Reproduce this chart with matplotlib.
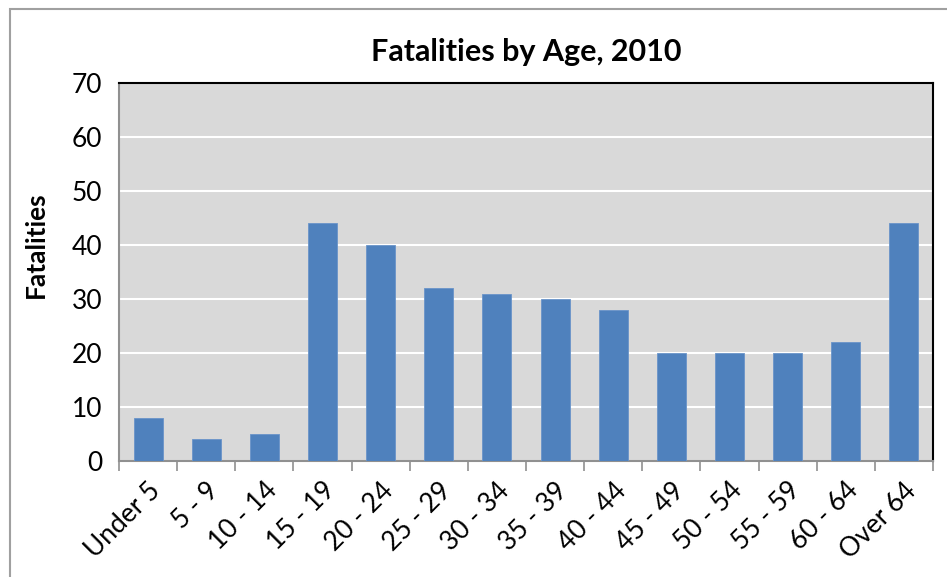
import matplotlib.pyplot as plt
from matplotlib.patches import Rectangle

# data
ages = ["Under 5", "5 - 9", "10 - 14", "15 - 19", "20 - 24", "25 - 29", "30 - 34",
        "35 - 39", "40 - 44", "45 - 49", "50 - 54", "55 - 59", "60 - 64", "Over 64"]
fatalities = [8, 4, 5, 44, 40, 32, 31, 30, 28, 20, 20, 20, 22, 44]
yticks = [0, 10, 20, 30, 40, 50, 60, 70]

plt.rcParams['font.family'] = ['Lato', 'DejaVu Sans']

W, H = 947, 577
fig = plt.figure(figsize=(W / 100, H / 100), dpi=100)
ax = fig.add_axes([119 / W, 1 - 461 / H, (933 - 119) / W, (461 - 83) / H])

# outer chart border (runs off the right/bottom edge)
fig.patches.append(Rectangle((10 / W, -0.1), 1.2, 1 - 9 / H + 0.1, transform=fig.transFigure,
                             fill=False, edgecolor='#a0a0a0', linewidth=1.5))

ax.set_facecolor('#d9d9d9')
x = range(len(ages))
ax.bar(x, fatalities, width=0.5, color='#4f81bd', edgecolor='#6a94c9', linewidth=0.6, zorder=3)

ax.set_ylim(0, 70)
ax.set_xlim(-0.5, len(ages) - 0.5)
ax.set_yticks(yticks)
ax.set_yticklabels([str(v) for v in yticks], fontsize=19)
ax.yaxis.grid(True, color='white', linewidth=1.5, zorder=0)
ax.set_axisbelow(True)
ax.tick_params(axis='y', length=0, pad=12)

ax.set_xticks([i for i in x])
ax.set_xticklabels(ages, rotation=45, ha='right', rotation_mode='anchor', fontsize=19)
ax.set_xticks([i - 0.5 for i in range(len(ages) + 1)], minor=True)
ax.tick_params(axis='x', which='major', length=0, pad=12)
ax.tick_params(axis='x', which='minor', length=7, color='#909090', width=1.2)

for s in ['left', 'bottom']:
    ax.spines[s].set_color('#909090')
    ax.spines[s].set_linewidth(1.5)
for s in ['top', 'right']:
    ax.spines[s].set_color('black')
    ax.spines[s].set_linewidth(1.5)

# Excel puts the axis title a bit above the middle
ax.set_ylabel("Fatalities", fontsize=19, fontweight='bold', va='center')
ax.yaxis.set_label_coords(-0.102, 0.571)
ax.set_title("Fatalities by Age, 2010", fontsize=22, fontweight='bold', pad=16)

fig.savefig("out.png", dpi=100)
